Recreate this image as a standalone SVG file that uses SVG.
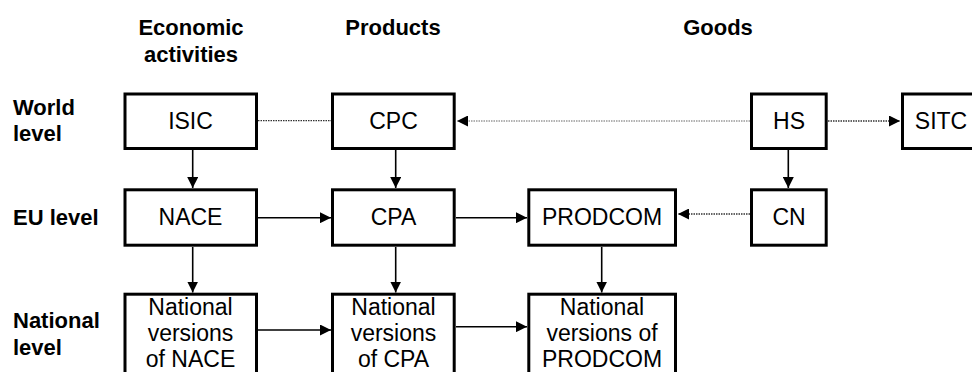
<svg xmlns="http://www.w3.org/2000/svg" width="972" height="372" viewBox="0 0 972 372">
<style>
.box{fill:#fff;stroke:#000;stroke-width:3}
.t{font-family:"Liberation Sans",Arial,sans-serif;font-size:23px;fill:#000;text-anchor:middle}
.h{font-family:"Liberation Sans",Arial,sans-serif;font-size:22px;font-weight:bold;fill:#000}
.hc{text-anchor:middle}
.s{stroke:#000;stroke-width:1.6;fill:none}
.d{stroke:#333;stroke-width:1.3;stroke-dasharray:1.5 1;fill:none}
.dg{stroke:#999;stroke-width:1.3;stroke-dasharray:1.5 1;fill:none}
</style>
<defs>
<marker id="ah" viewBox="0 0 11 11" refX="11" refY="5.5" markerWidth="11" markerHeight="11" markerUnits="userSpaceOnUse" orient="auto">
<path d="M0,0 L11,5.5 L0,11 z" fill="#000"/>
</marker>
</defs>
<rect width="972" height="372" fill="#fff"/>
<g id="headers">
<text class="h hc" x="191" y="35">Economic</text>
<text class="h hc" x="191" y="62">activities</text>
<text class="h hc" x="393" y="35">Products</text>
<text class="h hc" x="718" y="35">Goods</text>
<text class="h" x="13" y="115">World</text>
<text class="h" x="13" y="141">level</text>
<text class="h" x="13" y="225">EU level</text>
<text class="h" x="13" y="328">National</text>
<text class="h" x="13" y="355">level</text>
</g>
<g id="connectors">
<line class="d" x1="258" y1="120.7" x2="331" y2="120.7"/>
<line class="dg" x1="750" y1="121" x2="457" y2="121" marker-end="url(#ah)"/>
<line class="d" x1="828" y1="121" x2="900" y2="121" marker-end="url(#ah)"/>
<line class="s" x1="192.7" y1="150" x2="192.7" y2="188" marker-end="url(#ah)"/>
<line class="s" x1="395.7" y1="150" x2="395.7" y2="188" marker-end="url(#ah)"/>
<line class="s" x1="788.3" y1="150" x2="788.3" y2="188" marker-end="url(#ah)"/>
<line class="s" x1="258" y1="217.7" x2="331" y2="217.7" marker-end="url(#ah)"/>
<line class="s" x1="456" y1="217.7" x2="527" y2="217.7" marker-end="url(#ah)"/>
<line class="d" x1="750" y1="214" x2="678" y2="214" marker-end="url(#ah)"/>
<line class="s" x1="192.7" y1="247" x2="192.7" y2="292.5" marker-end="url(#ah)"/>
<line class="s" x1="395.7" y1="247" x2="395.7" y2="292.5" marker-end="url(#ah)"/>
<line class="s" x1="601.7" y1="247" x2="601.7" y2="292.5" marker-end="url(#ah)"/>
<line class="s" x1="258" y1="330" x2="331" y2="330" marker-end="url(#ah)"/>
<line class="s" x1="456" y1="326.7" x2="527" y2="326.7" stroke="#555" marker-end="url(#ah)"/>
</g>
<g id="isic"><rect class="box" x="125" y="94" width="131.5" height="54.5"/><text class="t" x="190.5" y="129">ISIC</text></g>
<g id="cpc"><rect class="box" x="332.5" y="94" width="121.7" height="54.5"/><text class="t" x="393.5" y="129">CPC</text></g>
<g id="hs"><rect class="box" x="751.5" y="94" width="74.7" height="54.5"/><text class="t" x="789" y="129">HS</text></g>
<g id="sitc"><rect class="box" x="902.5" y="94" width="90" height="54.5"/><text class="t" x="941" y="129">SITC</text></g>
<g id="nace"><rect class="box" x="125" y="189.8" width="131.5" height="55.4"/><text class="t" x="190.5" y="225">NACE</text></g>
<g id="cpa"><rect class="box" x="332.5" y="189.8" width="121.7" height="55.4"/><text class="t" x="393.5" y="225">CPA</text></g>
<g id="prodcom"><rect class="box" x="528.8" y="189.8" width="146.7" height="55.4"/><text class="t" x="602" y="225">PRODCOM</text></g>
<g id="cn"><rect class="box" x="751.5" y="189.8" width="74.7" height="55.4"/><text class="t" x="789" y="225">CN</text></g>
<g id="nat-nace"><rect class="box" x="125" y="294.2" width="131.5" height="100"/><text class="t" x="190.5" y="315">National</text><text class="t" x="190.5" y="341">versions</text><text class="t" x="190.5" y="366.5">of NACE</text></g>
<g id="nat-cpa"><rect class="box" x="332.5" y="294.2" width="121.7" height="100"/><text class="t" x="393.5" y="315">National</text><text class="t" x="393.5" y="341">versions</text><text class="t" x="393.5" y="366.5">of CPA</text></g>
<g id="nat-prodcom"><rect class="box" x="528.8" y="294.2" width="146.7" height="100"/><text class="t" x="602" y="315">National</text><text class="t" x="602" y="341">versions of</text><text class="t" x="602" y="366.5">PRODCOM</text></g>
</svg>
